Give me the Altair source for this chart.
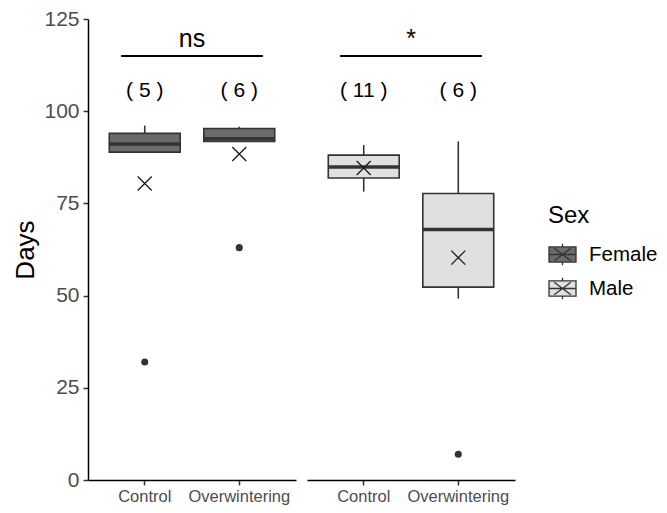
import altair as alt
import pandas as pd

# ---- data ----
sexes = ["Female", "Female", "Male", "Male"]
treatments = ["Control", "Overwintering", "Control", "Overwintering"]
q1 = [88.9, 91.8, 81.9, 52.3]
medians = [91.1, 92.5, 84.9, 67.9]
q3 = [94.0, 95.3, 88.1, 77.7]
whisker_low = [88.9, 91.8, 78.2, 49.2]
whisker_high = [96.1, 95.8, 90.8, 91.8]
means = [80.4, 88.4, 84.6, 60.3]
n_labels = ["( 5 )", "( 6 )", "( 11 )", "( 6 )"]
n_label_y = 103.9

outlier_sex = ["Female", "Female", "Male"]
outlier_treatment = ["Control", "Overwintering", "Overwintering"]
outlier_values = [32.0, 63.0, 7.0]

sig_sex = ["Female", "Male"]
sig_start = ["Control", "Control"]
sig_end = ["Overwintering", "Overwintering"]
sig_labels = ["ns", "*"]
sig_line_y = 115.0
sig_text_y = 117.4

sex_domain = ["Female", "Male"]
sex_colors = ["#6b6b6b", "#e0e0e0"]
treatment_order = ["Control", "Overwintering"]
y_ticks = [0, 25, 50, 75, 100, 125]

box_df = pd.DataFrame({
    "Sex": sexes, "Treatment": treatments, "q1": q1, "median": medians,
    "q3": q3, "lo": whisker_low, "hi": whisker_high, "mean": means,
    "n": n_labels,
})
box_df["ny"] = n_label_y
out_df = pd.DataFrame({"Sex": outlier_sex, "Treatment": outlier_treatment,
                       "value": outlier_values})
sig_df = pd.DataFrame({"Sex": sig_sex, "start": sig_start, "end": sig_end,
                       "label": sig_labels})
sig_df["ly"] = sig_line_y
sig_df["ty"] = sig_text_y

FONT = "Liberation Sans"
PW, PH = 208, 461
X_SHAPE = "M-1,-1L1,1M-1,1L1,-1"
LEGEND_SHAPE = ("M-1,-0.56L1,-0.56L1,0.56L-1,0.56Z M-1,0L1,0 "
                "M-0.62,-0.46L0.62,0.46 M-0.62,0.46L0.62,-0.46 "
                "M0,-0.56L0,-0.8 M0,0.56L0,0.8")

fill_scale = alt.Scale(domain=sex_domain, range=sex_colors)
y_scale = alt.Scale(domain=[0, 125], nice=False, zero=True)


def panel(sex, show_y):
    xs = alt.Scale(domain=treatment_order, paddingInner=0.25, paddingOuter=0.225)
    x = alt.X("Treatment:N", scale=xs, sort=treatment_order,
              axis=alt.Axis(title=None, labelAngle=0, labelFontSize=16.5,
                            labelColor="#4d4d4d", labelPadding=3, tickSize=5,
                            tickWidth=1.5, tickColor="#333333",
                            domainColor="#000000", domainWidth=1.5,
                            grid=False, labelFont=FONT))
    if show_y:
        yax = alt.Axis(title="Days", values=y_ticks, grid=False,
                       labelFontSize=21, labelColor="#4d4d4d", labelPadding=4,
                       tickSize=5, tickWidth=1.5, tickColor="#333333",
                       domainColor="#000000", domainWidth=1.5,
                       titleFontSize=26, titleFontWeight="normal",
                       titleColor="#000000", titlePadding=5,
                       labelFont=FONT, titleFont=FONT)
    else:
        yax = None

    bd = box_df[box_df.Sex == sex]
    od = out_df[out_df.Sex == sex]
    sd = sig_df[sig_df.Sex == sex]

    base = alt.Chart(bd)
    whisk_hi = base.mark_rule(color="#333333", strokeWidth=1.6).encode(
        x=x, y=alt.Y("q3:Q", scale=y_scale, axis=yax), y2="hi:Q")
    whisk_lo = base.mark_rule(color="#333333", strokeWidth=1.6).encode(
        x=x, y=alt.Y("lo:Q", scale=y_scale), y2="q1:Q")
    box = base.mark_bar(stroke="#333333", strokeWidth=1.6).encode(
        x=x, y=alt.Y("q1:Q", scale=y_scale), y2="q3:Q",
        fill=alt.Fill("Sex:N", scale=fill_scale, title="Sex"))
    med = base.mark_tick(color="#333333", thickness=3.5, size=71, opacity=1).encode(
        x=x, y=alt.Y("median:Q", scale=y_scale))
    mean = base.mark_point(shape=X_SHAPE, size=196, stroke="#1a1a1a",
                           strokeWidth=1.3, filled=False, opacity=1).encode(
        x=x, y=alt.Y("mean:Q", scale=y_scale))
    nlab = base.mark_text(fontSize=21, font=FONT, color="#000000",
                          baseline="alphabetic").encode(
        x=x, y=alt.Y("ny:Q", scale=y_scale), text="n:N")
    outl = alt.Chart(od).mark_circle(size=50, color="#333333", opacity=1).encode(
        x=x, y=alt.Y("value:Q", scale=y_scale))
    sline = alt.Chart(sd).mark_rule(color="#000000", strokeWidth=2,
                                    xOffset=-23.6, x2Offset=23.6).encode(
        x=alt.X("start:N", scale=xs), x2="end:N",
        y=alt.Y("ly:Q", scale=y_scale))
    stext = alt.Chart(sd).mark_text(fontSize=25, font=FONT, color="#000000",
                                    baseline="alphabetic", dx=47.3).encode(
        x=alt.X("start:N", scale=xs), y=alt.Y("ty:Q", scale=y_scale),
        text="label:N")
    return alt.layer(whisk_hi, whisk_lo, box, med, mean, outl, nlab, sline,
                     stext).properties(width=PW, height=PH)


chart = alt.hconcat(panel("Female", True), panel("Male", False), spacing=11
).resolve_scale(fill="shared").configure_view(stroke=None).configure_legend(
    orient="none", legendX=460, legendY=185,
    symbolType=LEGEND_SHAPE, symbolSize=729, symbolStrokeColor="#333333",
    symbolStrokeWidth=1.3, labelFontSize=20.5, labelFont=FONT,
    labelColor="#000000", labelOffset=12, titleFontSize=24, titleFont=FONT,
    titleFontWeight="normal", titleColor="#000000", titlePadding=12,
    rowPadding=6
).properties(padding={"left": 4, "top": 0, "right": 0, "bottom": 0})

chart.save("out.html", embed_options={"renderer": "svg", "actions": False})
